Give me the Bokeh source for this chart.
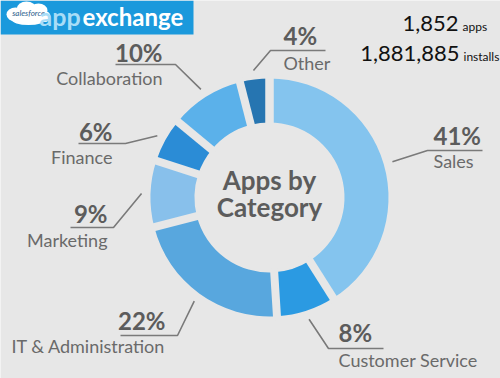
import numpy as np
from bokeh.plotting import figure
from bokeh.models import Range1d
from bokeh.core.properties import value
from bokeh.embed import file_html
from bokeh.resources import INLINE

# ---------------- data ----------------
categories = ["Sales", "Customer Service", "IT & Administration", "Marketing",
              "Finance", "Collaboration", "Other"]
shares = [41, 8, 22, 9, 6, 10, 4]
pct_labels = ["41%", "8%", "22%", "9%", "6%", "10%", "4%"]
colors = ["#84c4ee", "#2b9ae2", "#58a7de", "#88c0eb", "#2b8cd6", "#5bb1ea", "#2675b1"]
total_apps = "1,852"
total_installs = "1,881,885"
center_title = ["Apps by", "Category"]

# ---------------- layout (pixel coords, y downward) ----------------
W, H = 500, 378
BG = "#e7e7e7"
CX, CY = 269, 197
R_IN, R_OUT = 75, 119
GAP = 8
LEAD_R = 128
BASE_SHIFT = 0.42  # correction of the rendered alphabetic baseline, in em


def Y(v):
    return H - v


def TY(v, size):
    return H - (v - BASE_SHIFT * size)


# side, text x, pct baseline, name baseline, underline y, underline x0, x1, joining end
label_layout = [
    ("right", 433, 145, 168, 150, 427, 482, 427),   # Sales
    ("right", 338, 342, 367, 348, 328, 383, 328),   # Customer Service
    ("left", 165, 330, 353, 335, 120, 177, 177),    # IT & Administration
    ("left", 107, 223, 247, 227, 70, 113, 113),     # Marketing
    ("left", 112, 141, 164, 143, 78, 125, 125),     # Finance
    ("left", 162, 62, 85, 64, 115, 175, 175),       # Collaboration
    ("right", 283, 45, 70, 50, 270, 325, 270),      # Other
]

p = figure(width=W, height=H, x_range=Range1d(0, W), y_range=Range1d(0, H),
           output_backend="svg", toolbar_location=None,
           x_axis_type=None, y_axis_type=None, min_border=0)
p.grid.visible = False
p.outline_line_color = None
p.background_fill_color = BG
p.border_fill_color = BG

# ---------------- donut ----------------
vals = np.array(shares, dtype=float)
cum = np.concatenate([[0], np.cumsum(vals)]) / vals.sum()
ang_start_cw = np.pi / 2 - cum[:-1] * 2 * np.pi
ang_end_cw = np.pi / 2 - cum[1:] * 2 * np.pi
p.annular_wedge(x=CX, y=Y(CY), inner_radius=R_IN, outer_radius=R_OUT,
                start_angle=ang_end_cw, end_angle=ang_start_cw,
                direction="anticlock", fill_color=colors, line_color=None)

# gaps between slices
b = np.pi / 2 - cum * 2 * np.pi
r0, r1 = R_IN - 4, R_OUT + 4
p.segment(x0=CX + r0 * np.cos(b), y0=Y(CY) + r0 * np.sin(b),
          x1=CX + r1 * np.cos(b), y1=Y(CY) + r1 * np.sin(b),
          line_color=BG, line_width=GAP, line_cap="butt")

# ---------------- leader lines & labels ----------------
mid = (ang_start_cw + ang_end_cw) / 2
xs, ys = [], []
for i, (side, tx, py, ny, uy, ux0, ux1, uj) in enumerate(label_layout):
    ix = CX + LEAD_R * np.cos(mid[i])
    iy = Y(CY) + LEAD_R * np.sin(mid[i])
    far = ux1 if uj == ux0 else ux0
    xs.append([ix, uj, far])
    ys.append([iy, Y(uy), Y(uy)])
p.multi_line(xs=xs, ys=ys, line_color="#7a7a7a", line_width=1.6)

for i, (side, tx, py, ny, uy, ux0, ux1, uj) in enumerate(label_layout):
    align = "left" if side == "right" else "right"
    p.text(x=[tx], y=[TY(py, 24)], text=[pct_labels[i]], text_font=value("Lato"),
           text_font_size="24px", text_font_style="bold", text_color="#5c5c5c",
           text_align=align, text_baseline="alphabetic")
    p.text(x=[tx], y=[TY(ny, 18)], text=[categories[i]], text_font=value("Lato"),
           text_font_size="18px", text_color="#6a6a6a",
           text_align=align, text_baseline="alphabetic")

# center title
p.text(x=[CX, CX], y=[TY(190, 26), TY(217, 26)], text=center_title,
       text_font=value("Lato"), text_font_size="26px", text_font_style="bold",
       text_color="#5c5c5c", text_align="center", text_baseline="alphabetic")

# ---------------- top-right totals ----------------
p.text(x=[458, 459], y=[TY(32, 22), TY(62, 22)], text=[total_apps, total_installs],
       text_font=value("Lato"), text_font_size="22px", text_color="#111111",
       text_align="right", text_baseline="alphabetic")
p.text(x=[462, 463], y=[TY(31, 12), TY(61, 12)], text=["apps", "installs"],
       text_font=value("Lato"), text_font_size="12px", text_color="#111111",
       text_align="left", text_baseline="alphabetic")

# ---------------- logo ----------------
p.quad(left=0, right=193, top=Y(0), bottom=Y(34), fill_color="#1b99dc", line_color=None)
p.ellipse(x=[15, 26, 38, 44, 28], y=[Y(14), Y(9), Y(10), Y(16), Y(19)],
          width=[18, 20, 18, 12, 34], height=[14, 16, 14, 11, 11],
          fill_color="white", line_color=None)
p.text(x=[28], y=[TY(16, 8)], text=["salesforce"], text_font=value("Lato"),
       text_font_size="8px", text_font_style="italic", text_color="#2a5c8a",
       text_align="center", text_baseline="alphabetic")
p.text(x=[39], y=[TY(26, 25)], text=["app"], text_font=value("Lato"),
       text_font_size="25px", text_font_style="bold", text_color="#a8ddf7",
       text_align="left", text_baseline="alphabetic")
p.text(x=[82], y=[TY(26, 24)], text=["exchange"], text_font=value("Lato"),
       text_font_size="24px", text_font_style="bold", text_color="#ffffff",
       text_align="left", text_baseline="alphabetic")

open("out.html", "w").write(file_html(p, INLINE))
